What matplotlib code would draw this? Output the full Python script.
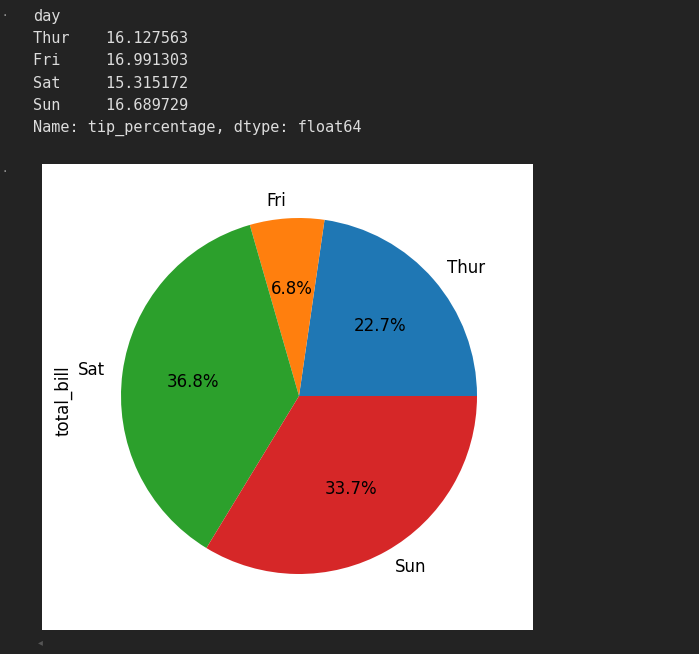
import matplotlib.pyplot as plt
from matplotlib.patches import Rectangle

days = ['Thur', 'Fri', 'Sat', 'Sun']
total_bill = [1096.33, 325.88, 1778.40, 1627.16]
tip_pct = [16.127563, 16.991303, 15.315172, 16.689729]
colors = ['#1f77b4', '#ff7f0e', '#2ca02c', '#d62728']

W, H = 699, 654
bg = '#232323'
fig = plt.figure(figsize=(W / 100, H / 100), dpi=100, facecolor=bg)

# text output of the previous cell (pandas series repr)
lines = ['day'] + ['{:<8}{:.6f}'.format(d, v) for d, v in zip(days, tip_pct)]
lines.append('Name: tip_percentage, dtype: float64')
for i, s in enumerate(lines):
    fig.text(33 / W, 1 - (16 + i * 22.4) / H, s, family='DejaVu Sans Mono',
             fontsize=11, color='#dcdcdc', va='center', ha='left')
# little cell markers on the left
for yy in [16, 172]:
    fig.text(3 / W, 1 - yy / H, '\u00b7', color='#9a9a9a', fontsize=10,
             va='center', ha='left')
fig.text(38 / W, 1 - 642 / H, '\u25c2', color='#555555', fontsize=7,
         va='center', ha='left')

# white image area of the plot output
fig.patches.append(Rectangle((42 / W, 1 - 630 / H), 491 / W, 466 / H,
                             transform=fig.transFigure, facecolor='white',
                             edgecolor='none', zorder=-1))

# pie axes: center (299, 396), radius ~178 px
r = 178
side = 2.5 * r
ax = fig.add_axes([(299 - side / 2) / W, 1 - (396 + side / 2) / H, side / W, side / H])
ax.pie(total_bill, labels=days, colors=colors, autopct='%1.1f%%',
       textprops={'fontsize': 12})
ax.set_ylabel('total_bill', fontsize=12)
ax.yaxis.set_label_coords(-0.008, 0.49)
ax.set_aspect('equal')

fig.savefig('out.png', dpi=100, facecolor=bg)
